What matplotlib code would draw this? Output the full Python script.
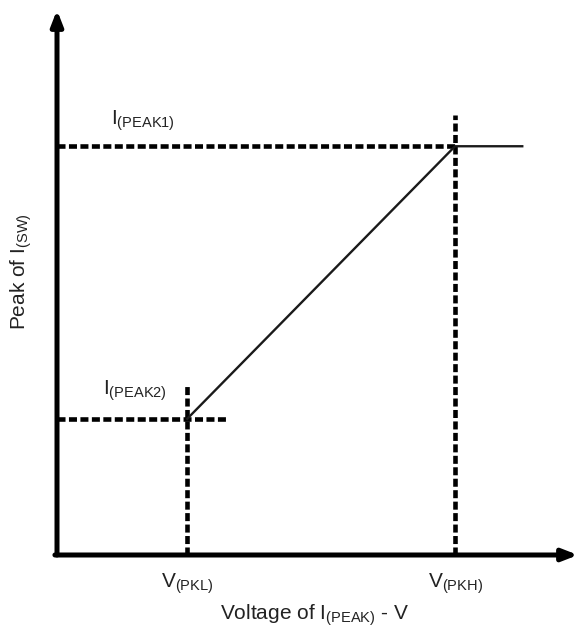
import matplotlib
matplotlib.use("Agg")
import matplotlib.pyplot as plt

plt.rcParams['font.family'] = ['Liberation Sans', 'DejaVu Sans']
plt.rcParams['mathtext.fontset'] = 'custom'
plt.rcParams['mathtext.rm'] = 'Liberation Sans'
plt.rcParams['mathtext.it'] = 'Liberation Sans'

# Data (normalized units, axes 0..10)
x_labels = [r'$\mathrm{V_{(PKL)}}$', r'$\mathrm{V_{(PKH)}}$']
x_points = [2.5, 7.64]          # V(PKL), V(PKH)
y_points = [2.5, 7.5]           # I(PEAK2), I(PEAK1)
y_labels = [r'$\mathrm{I_{(PEAK2)}}$', r'$\mathrm{I_{(PEAK1)}}$']
curve_x = [2.5, 7.64, 8.93]
curve_y = [2.5, 7.5, 7.5]
vline_tops = [3.14, 8.07]       # top of vertical dashed guides
hline_ends = [3.28, 7.64]       # right end of horizontal dashed guides

W, H = 578, 631
fig = plt.figure(figsize=(W / 100, H / 100), dpi=100)
ax = fig.add_axes([57 / W, (H - 555) / H, 521 / W, 545 / H])
ax.set_xlim(0, 10)
ax.set_ylim(0, 10)
for s in ax.spines.values():
    s.set_visible(False)
ax.set_xticks([])
ax.set_yticks([])
ax.patch.set_alpha(0)

dash = dict(color='black', lw=3.3, dashes=(1.75, 0.75), solid_capstyle='butt', dash_capstyle='butt')
for xv, top in zip(x_points, vline_tops):
    ax.plot([xv, xv], [0, top], **dash)
for yv, end in zip(y_points, hline_ends):
    ax.plot([0, end], [yv, yv], **dash)

ax.plot(curve_x, curve_y, color='#1a1a1a', lw=1.7)

# Axes with arrows
ax.annotate('', xy=(0, 1.0), xytext=(0, 0), xycoords='axes fraction',
            arrowprops=dict(arrowstyle='-|>,head_length=0.9,head_width=0.35', lw=3.6, color='black',
                            shrinkA=0, shrinkB=0), annotation_clip=False)
ax.annotate('', xy=(1.0, 0), xytext=(-0.004, 0), xycoords='axes fraction',
            arrowprops=dict(arrowstyle='-|>,head_length=0.9,head_width=0.35', lw=3.6, color='black',
                            shrinkA=0, shrinkB=0), annotation_clip=False)

fs = 15
for xv, lab in zip(x_points, x_labels):
    ax.text(xv, -0.53, lab, ha='center', va='center', fontsize=fs, color='#222222')
ax.text(1.03, 7.9, y_labels[1], ha='left', va='baseline', fontsize=fs, color='#222222')
ax.text(0.88, 2.95, y_labels[0], ha='left', va='baseline', fontsize=fs, color='#222222')

fig.text(315 / W, 1 - 615 / H, r'Voltage of $\mathrm{I_{(PEAK)}}$ - V', ha='center', va='center',
         fontsize=fs, color='#222222')
fig.text(21 / W, 1 - 272 / H, r'Peak of $\mathrm{I_{(SW)}}$', ha='center', va='center', fontsize=fs,
         rotation=90, color='#222222')

fig.savefig('out.png', dpi=100)
